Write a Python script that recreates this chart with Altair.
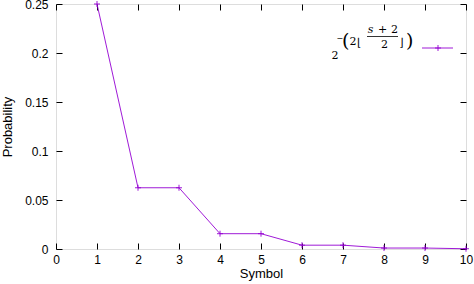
import altair as alt
import pandas as pd

# ---- data ----
symbols = [1, 2, 3, 4, 5, 6, 7, 8, 9, 10]
probabilities = [0.25, 0.0625, 0.0625, 0.015625, 0.015625,
                 0.00390625, 0.00390625, 0.0009765625, 0.0009765625, 0.000244140625]
x_ticks = [0, 1, 2, 3, 4, 5, 6, 7, 8, 9, 10]
y_ticks = [0, 0.05, 0.1, 0.15, 0.2, 0.25]

PURPLE = "#9400D3"
L, T = 56, 4          # plot-area origin inside the page
W, H = 410, 245
FONT = "Liberation Sans"
MATH = "DejaVu Serif"
PLUS = "M-1,0L1,0M0,-1L0,1"

df = pd.DataFrame({"Symbol": symbols, "Probability": probabilities})
one = pd.DataFrame({"k": [0]})

xs = alt.Scale(domain=[0, 10], nice=False, zero=False)
ys = alt.Scale(domain=[0, 0.25], nice=False)

common_axis = dict(offset=-6, tickSize=6, domain=False, grid=False,
                   tickColor="black", labelColor="black", titleColor="black",
                   labelFont=FONT, titleFont=FONT, labelFontSize=12,
                   titleFontSize=13, titleFontWeight="normal",
                   labelFlush=False, labelOverlap=False)

line = alt.Chart(df).mark_line(color=PURPLE, strokeWidth=0.9).encode(
    x=alt.X("Symbol:Q", scale=xs,
            axis=alt.Axis(values=x_ticks, orient="bottom", labelPadding=5,
                          title="Symbol", titlePadding=2, format="d", **common_axis)),
    y=alt.Y("Probability:Q", scale=ys,
            axis=alt.Axis(values=y_ticks, orient="left", labelPadding=8,
                          title="Probability", titlePadding=10, format="~g", **common_axis)),
)

points = alt.Chart(df).mark_point(shape=PLUS, size=36, strokeWidth=0.9,
                                  color=PURPLE, filled=False, opacity=1).encode(
    x=alt.X("Symbol:Q", scale=xs,
            axis=alt.Axis(values=x_ticks, orient="top", labels=False, title="", **common_axis)),
    y=alt.Y("Probability:Q", scale=ys,
            axis=alt.Axis(values=y_ticks, orient="right", labels=False, title="", **common_axis)),
)


def txt(s, x, y, size, align="left", italic=False, font=MATH):
    return alt.Chart(one).mark_text(
        text=s, font=font, fontSize=size, align=align, baseline="alphabetic",
        color="black", fontStyle="italic" if italic else "normal"
    ).encode(x=alt.value(x - L), y=alt.value(y - T))


legend_parts = [
    txt("2", 335, 59, 11, align="center"),
    txt("\u2212", 336.5, 40.5, 8),
    txt("(", 342, 47, 19),
    txt("2", 353, 45, 11, align="center"),
    txt("\u230a", 357, 46, 11, font="DejaVu Sans"),
    txt("s", 370.5, 33, 11, align="center", italic=True),
    txt("+", 382.5, 33, 11, align="center"),
    txt("2", 394.5, 33, 11, align="center"),
    txt("2", 384.5, 48, 11, align="center"),
    txt("\u230b", 399.5, 46, 11, font="DejaVu Sans"),
    txt(")", 406, 47, 19),
]

frac_bar = alt.Chart(one).mark_rule(color="black", strokeWidth=0.8).encode(
    x=alt.value(367 - L), x2=alt.value(398 - L), y=alt.value(36.5 - T))

sample_line = alt.Chart(one).mark_rule(color=PURPLE, strokeWidth=0.9).encode(
    x=alt.value(422 - L), x2=alt.value(453 - L), y=alt.value(48 - T))
sample_point = alt.Chart(one).mark_point(shape=PLUS, size=36, strokeWidth=0.9,
                                         color=PURPLE, filled=False, opacity=1).encode(
    x=alt.value(438 - L), y=alt.value(48 - T))

chart = alt.layer(line, points, *legend_parts, frac_bar, sample_line, sample_point).resolve_axis(
    x="independent", y="independent"
).properties(
    width=W, height=H,
    autosize=alt.AutoSizeParams(type="none"),
    padding={"left": L, "top": T, "right": 474 - L - W, "bottom": 284 - T - H},
).configure_view(stroke="black", strokeWidth=1).configure(background="white")

chart.save("out.html", embed_options={"renderer": "svg", "actions": False})
